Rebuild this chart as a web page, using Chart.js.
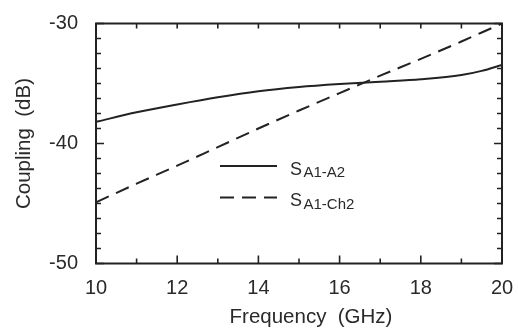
<!DOCTYPE html>
<html>
<head>
<meta charset="utf-8">
<script src="https://cdn.jsdelivr.net/npm/chart.js@4"></script>
<style>
  html, body { margin: 0; padding: 0; background: #fff; }
  #wrap { width: 518px; height: 332px; }
</style>
</head>
<body>
<div id="wrap"><canvas id="chart"></canvas></div>
<script>
// frequency points (GHz)
const freq = [10, 11, 12, 13, 14, 15, 16, 17, 18, 19, 19.5, 20];
// coupling (dB)
const sA1A2 = [-38.2, -37.4, -36.75, -36.15, -35.65, -35.3, -35.05, -34.85, -34.65, -34.3, -33.95, -33.45];
const sA1Ch2 = [-44.9, -43.35, -41.85, -40.3, -38.75, -37.25, -35.8, -34.35, -32.95, -31.5, -30.75, -30.0];

const xTitle = 'Frequency  (GHz)';
const yTitle = 'Coupling  (dB)';
const legendLabels = [['S', 'A1-A2'], ['S', 'A1-Ch2']];

const ink = '#222';
const textInk = '#2a2a2a';
const font = 'Liberation Sans, Arial, sans-serif';

function pts(ys) {
    return freq.map((f, i) => ({ x: f, y: ys[i] }));
}

// frame, inward ticks, x title and legend
const decor = {
    id: 'decor',
    afterDraw(chart) {
        const ctx = chart.ctx;
        const a = chart.chartArea;
        const xs = chart.scales.x;
        const ys = chart.scales.y;
        ctx.save();
        ctx.strokeStyle = ink;
        ctx.lineWidth = 2;
        ctx.strokeRect(a.left, a.top, a.right - a.left, a.bottom - a.top);

        ctx.lineWidth = 1.6;
        ctx.beginPath();
        xs.ticks.forEach(t => {
            const px = xs.getPixelForValue(t.value);
            const len = Math.round(t.value) % 2 === 0 ? 8 : 5;
            ctx.moveTo(px, a.bottom); ctx.lineTo(px, a.bottom - len);
            ctx.moveTo(px, a.top); ctx.lineTo(px, a.top + 5);
        });
        ys.ticks.forEach(t => {
            const py = ys.getPixelForValue(t.value);
            const len = Math.abs(t.value % 10) < 1e-6 ? 8 : 5;
            ctx.moveTo(a.left, py); ctx.lineTo(a.left + len, py);
            ctx.moveTo(a.right, py); ctx.lineTo(a.right - len, py);
        });
        ctx.stroke();

        // x axis title
        ctx.fillStyle = textInk;
        ctx.font = '20.5px ' + font;
        ctx.textAlign = 'center';
        ctx.textBaseline = 'alphabetic';
        ctx.fillText(xTitle, (a.left + a.right) / 2 + 12, 322.5);

        // legend
        const ds = chart.data.datasets;
        legendLabels.forEach((lab, i) => {
            const y = 166 + i * 31.5;
            ctx.lineWidth = 2;
            ctx.setLineDash(ds[i].borderDash || []);
            ctx.beginPath();
            ctx.moveTo(220, y); ctx.lineTo(277, y);
            ctx.stroke();
            ctx.setLineDash([]);
            ctx.textAlign = 'left';
            ctx.font = '18px ' + font;
            ctx.fillText(lab[0], 290, y + 8.5);
            const w = ctx.measureText(lab[0]).width;
            ctx.font = '15px ' + font;
            ctx.fillText(lab[1], 290 + w + 1.5, y + 11);
        });
        ctx.restore();
    }
};

new Chart(document.getElementById('chart'), {
    type: 'line',
    data: {
        datasets: [{
            label: 'SA1-A2',
            data: pts(sA1A2),
            borderColor: ink,
            borderWidth: 2,
            pointRadius: 0,
            cubicInterpolationMode: 'monotone'
        }, {
            label: 'SA1-Ch2',
            data: pts(sA1Ch2),
            borderColor: ink,
            borderWidth: 2,
            borderDash: [14, 8],
            pointRadius: 0,
            cubicInterpolationMode: 'monotone'
        }]
    },
    options: {
        responsive: true,
        maintainAspectRatio: false,
        animation: false,
        layout: { padding: { top: 23.5, right: 16, left: 0, bottom: 0 } },
        plugins: { legend: { display: false }, tooltip: { enabled: false } },
        scales: {
            x: {
                type: 'linear',
                min: 10, max: 20,
                border: { display: false },
                grid: { display: false, drawTicks: false },
                ticks: {
                    stepSize: 1,
                    padding: 13,
                    color: textInk,
                    font: { family: font, size: 20 },
                    maxRotation: 0,
                    autoSkip: false,
                    callback: v => (Math.round(v) % 2 === 0 ? v : '')
                },
                afterFit: s => { s.height = 68.5; s.paddingLeft = 0; s.paddingRight = 0; }
            },
            y: {
                min: -50, max: -30,
                border: { display: false },
                grid: { display: false, drawTicks: false },
                ticks: {
                    stepSize: 1.25,
                    padding: 18,
                    color: textInk,
                    font: { family: font, size: 20 },
                    autoSkip: false,
                    callback: v => (Math.abs(v % 10) < 1e-6 ? v : '')
                },
                title: {
                    display: true,
                    text: yTitle,
                    color: textInk,
                    font: { family: font, size: 20.5 },
                    padding: { top: 12, bottom: 0 }
                },
                afterFit: s => { s.width = 96; s.paddingTop = 0; s.paddingBottom = 0; }
            }
        }
    },
    plugins: [decor]
});
</script>
</body>
</html>
